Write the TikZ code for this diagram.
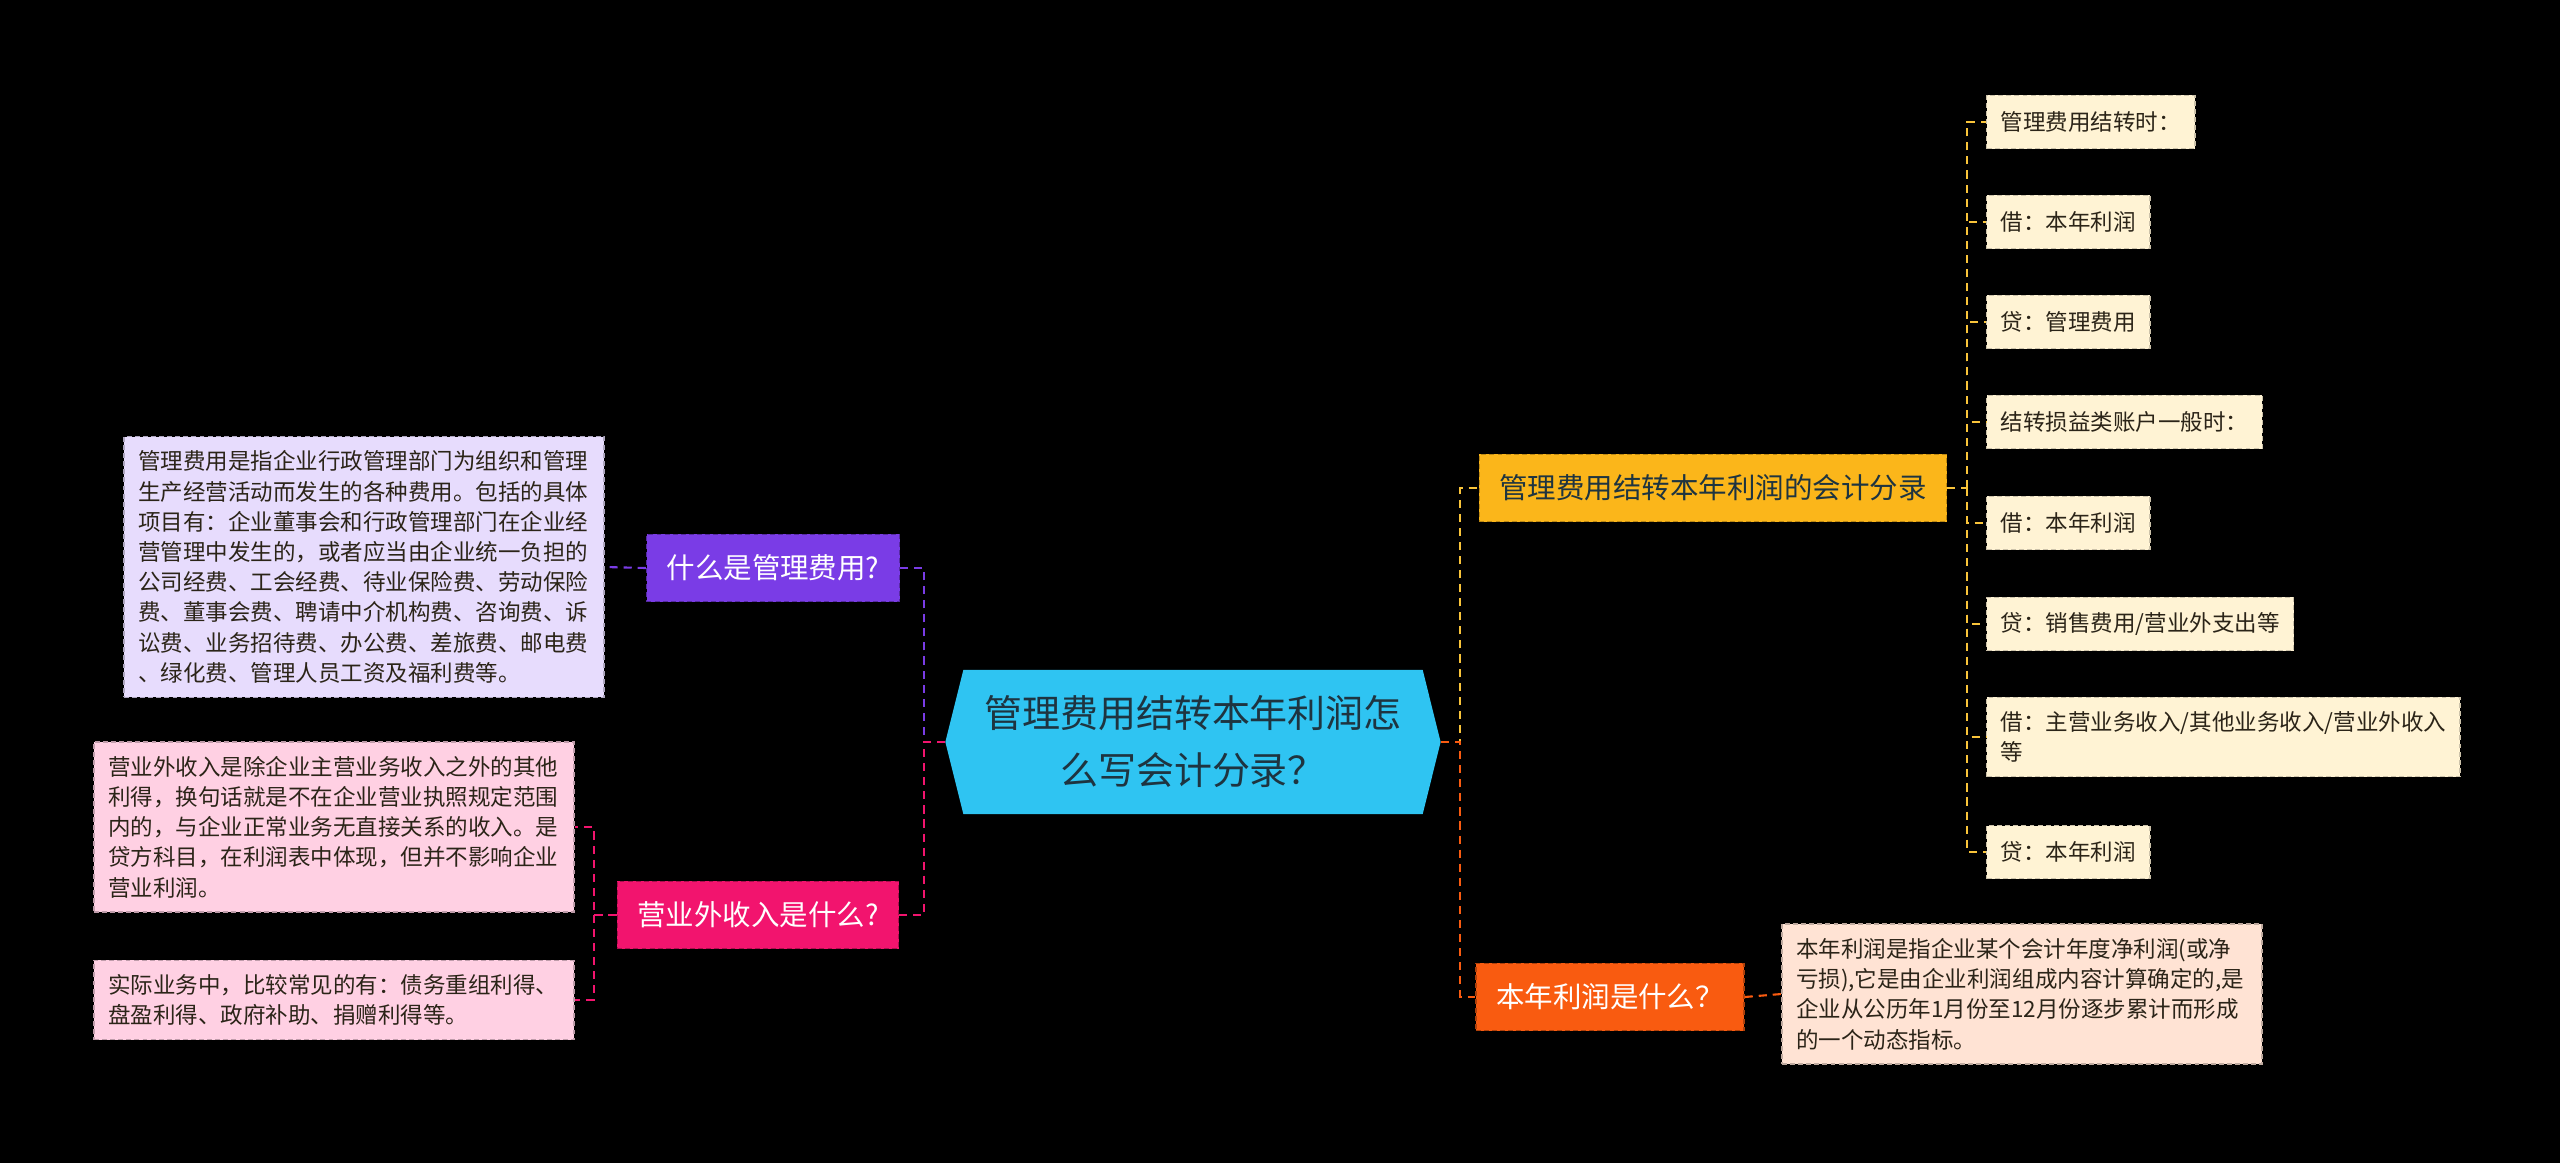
\documentclass[tikz,border=0pt]{standalone}
\usepackage{fontspec}
\setmainfont{Noto Sans CJK SC}
\usetikzlibrary{shapes.symbols}

\definecolor{rootblue}{HTML}{2FC4F2}
\definecolor{rootink}{HTML}{1E3440}
\definecolor{viomain}{HTML}{7A3CE6}
\definecolor{violeaf}{HTML}{E7DCFD}
\definecolor{pinkmain}{HTML}{F2146E}
\definecolor{pinkleaf}{HTML}{FFD0E3}
\definecolor{ambmain}{HTML}{FBB61A}
\definecolor{ambleaf}{HTML}{FFF3D4}
\definecolor{ambline}{HTML}{F9C43A}
\definecolor{orgmain}{HTML}{F95B10}
\definecolor{orgleaf}{HTML}{FFE3D4}
\definecolor{leafink}{HTML}{2B2418}

\tikzstyle{every node}=[rectangle, line width=0.4pt, dash pattern=on 1.4pt off 0.9pt]
\tikzstyle{topic}=[font={\fontsize{8.1}{10}\selectfont}, text=white, inner xsep=5.7pt, minimum height=0.67cm]
\tikzstyle{leaf}=[font={\fontsize{6.4}{8.6}\selectfont}, text=leafink, align=left, inner xsep=4pt, inner ysep=4pt]
\tikzstyle{note}=[leaf, text width=128.5pt]
\tikzstyle{rec}=[leaf, anchor=west, fill=ambleaf, draw=ambleaf!80!black, minimum height=0.53cm]
\tikzstyle{link}=[line width=0.6pt, dash pattern=on 2.3pt off 1.7pt]

\begin{document}
\begin{tikzpicture}[x=0.01cm, y=-0.01cm]
    \useasboundingbox (0,0) rectangle (2560,1163);
    \fill [black] (0,0) rectangle (2560,1163);

    \node [signal, signal to=west and east, signal pointer angle=152, fill=rootblue, text=rootink,
        font={\fontsize{10.8}{16.2}\selectfont}, align=center, minimum width=4.95cm, minimum height=1.44cm]
        (root) at (1193,742) {管理费用结转本年利润怎\\么写会计分录？};

    \node [topic, fill=viomain, draw=viomain!70!black] (what) at (773,568) {什么是管理费用?};
    \node [topic, fill=pinkmain, draw=pinkmain!70!black] (other) at (758,915) {营业外收入是什么?};
    \node [topic, fill=ambmain, draw=ambmain!75!black, text=rootink] (entry) at (1713,488) {管理费用结转本年利润的会计分录};
    \node [topic, fill=orgmain, draw=orgmain!70!black] (profit) at (1610,997) {本年利润是什么？};

    \node [note, fill=violeaf, draw=violeaf!75!black] (whatnote) at (364,567) {管理费用是指企业行政管理部门为组织和管理\\生产经营活动而发生的各种费用。包括的具体\\项目有：企业董事会和行政管理部门在企业经\\营管理中发生的，或者应当由企业统一负担的\\公司经费、工会经费、待业保险费、劳动保险\\费、董事会费、聘请中介机构费、咨询费、诉\\讼费、业务招待费、办公费、差旅费、邮电费\\、绿化费、管理人员工资及福利费等。};
    \node [note, fill=pinkleaf, draw=pinkleaf!75!black] (othernote1) at (334,827) {营业外收入是除企业主营业务收入之外的其他\\利得，换句话就是不在企业营业执照规定范围\\内的，与企业正常业务无直接关系的收入。是\\贷方科目，在利润表中体现，但并不影响企业\\营业利润。};
    \node [note, fill=pinkleaf, draw=pinkleaf!75!black] (othernote2) at (334,1000) {实际业务中，比较常见的有：债务重组利得、\\盘盈利得、政府补助、捐赠利得等。};
    \node [note, fill=orgleaf, draw=orgleaf!75!black] (profitnote) at (2022,994) {本年利润是指企业某个会计年度净利润(或净\\亏损),它是由企业利润组成内容计算确定的,是\\企业从公历年1月份至12月份逐步累计而形成\\的一个动态指标。};

    \node [rec] (rec1) at (1986,122) {管理费用结转时：};
    \node [rec] (rec2) at (1986,222) {借：本年利润};
    \node [rec] (rec3) at (1986,322) {贷：管理费用};
    \node [rec] (rec4) at (1986,422) {结转损益类账户一般时：};
    \node [rec] (rec5) at (1986,523) {借：本年利润};
    \node [rec] (rec6) at (1986,624) {贷：销售费用/营业外支出等};
    \node [rec] (rec7) at (1986,737) {借：主营业务收入/其他业务收入/营业外收入\\等};
    \node [rec] (rec8) at (1986,852) {贷：本年利润};

    \draw [link, viomain] (root.west) -- ++(-21,0) |- (what.east);
    \draw [link, pinkmain] (root.west) -- ++(-21,0) |- (other.east);
    \draw [link, ambline] (root.east) -- ++(19,0) |- (entry.west);
    \draw [link, orgmain] (root.east) -- ++(19,0) |- (profit.west);
    \draw [link, viomain] (what.west) -- (whatnote.east);
    \draw [link, pinkmain] (other.west) -- ++(-23,0) coordinate (otherfork) |- (othernote1.east);
    \draw [link, pinkmain] (otherfork) |- (othernote2.east);
    \draw [link, orgmain] (profit.east) -- (profitnote.west);
    \draw [link, ambline] (entry.east) -- ++(20,0) coordinate (entryfork);
    \foreach \i in {1,...,8}
        \draw [link, ambline] (entryfork) |- (rec\i.west);
\end{tikzpicture}
\end{document}
